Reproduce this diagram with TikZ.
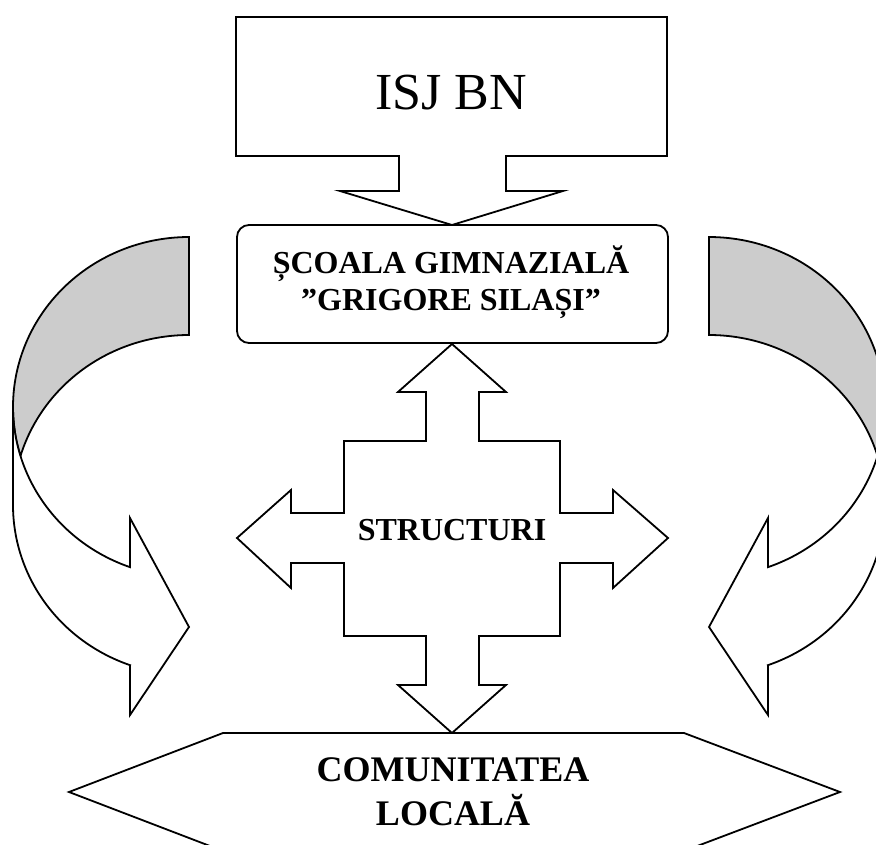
\documentclass[tikz,border=0pt]{standalone}
\usepackage{fontspec}
\setmainfont{Liberation Serif}
\newcommand\curvedArrowShape{%
  \draw[backface] (189,237)
     -- plot[domain=270:163.25,samples=70] ({189+176*cos(\x)},{407+170*sin(\x)})
     -- plot[domain=196.75:270,samples=70] ({189+176*cos(\x)},{505+170*sin(\x)})
     -- cycle;
  \draw[blockshape] (13,407)
     -- plot[domain=180:109.58,samples=70] ({189+176*cos(\x)},{407+170*sin(\x)})
     -- (130,518) -- (189,627) -- (130,715) -- (130,665.2)
     -- plot[domain=109.58:180,samples=70] ({189+176*cos(\x)},{505+170*sin(\x)})
     -- cycle;
}
\begin{document}
\begin{tikzpicture}[x=1pt,y=-1pt,line width=1.8pt,line join=miter,
  blockshape/.style={draw=black,fill=white},
  backface/.style={draw=black,fill=black!20},
  boldlbl/.style={anchor=base,inner sep=0pt,font=\fontsize{32}{38}\selectfont\bfseries},
  biglbl/.style={anchor=base,inner sep=0pt,font=\fontsize{36}{42}\selectfont\bfseries}]
\useasboundingbox (0,0) rectangle (876,845);
\fill[white] (0,0) rectangle (876,845);
\clip (0,0) rectangle (876,845);

% curved arrows
\curvedArrowShape
\begin{scope}[xshift=898pt,xscale=-1]
  \curvedArrowShape
\end{scope}

% ISJ BN callout with down arrow
\draw[blockshape] (236,17) -- (667,17) -- (667,156) -- (506,156) -- (506,191)
  -- (563,191) -- (452,225) -- (340,191) -- (399,191) -- (399,156)
  -- (236,156) -- cycle;
\node[anchor=base,inner sep=0pt,font=\fontsize{52}{60}\selectfont] (isj) at (451,110) {ISJ BN};

% school box
\draw[blockshape,rounded corners=12pt] (237,225) rectangle (668,343);
\node[boldlbl] (sc1) at (451,273) {ȘCOALA GIMNAZIALĂ};
\node[boldlbl] (sc2) at (451,310) {”GRIGORE SILAȘI”};

% four-way arrow
\draw[blockshape] (452,344) -- (506,392) -- (479,392) -- (479,441) -- (560,441)
  -- (560,513) -- (613,513) -- (613,490) -- (668,538) -- (613,588) -- (613,563)
  -- (560,563) -- (560,636) -- (479,636) -- (479,685) -- (506,685) -- (452,733)
  -- (398,685) -- (426,685) -- (426,636) -- (344,636) -- (344,563) -- (291,563)
  -- (291,588) -- (237,538) -- (291,490) -- (291,513) -- (344,513) -- (344,441)
  -- (426,441) -- (426,392) -- (398,392) -- cycle;
\node[boldlbl] (str) at (452,540) {STRUCTURI};

% community hexagon
\draw[blockshape] (223,733) -- (684,733) -- (840,792) -- (684,851) -- (223,851)
  -- (69,792) -- cycle;
\node[biglbl] (com1) at (453,781) {COMUNITATEA};
\node[biglbl] (com2) at (453,825) {LOCALĂ};
\end{tikzpicture}
\end{document}
